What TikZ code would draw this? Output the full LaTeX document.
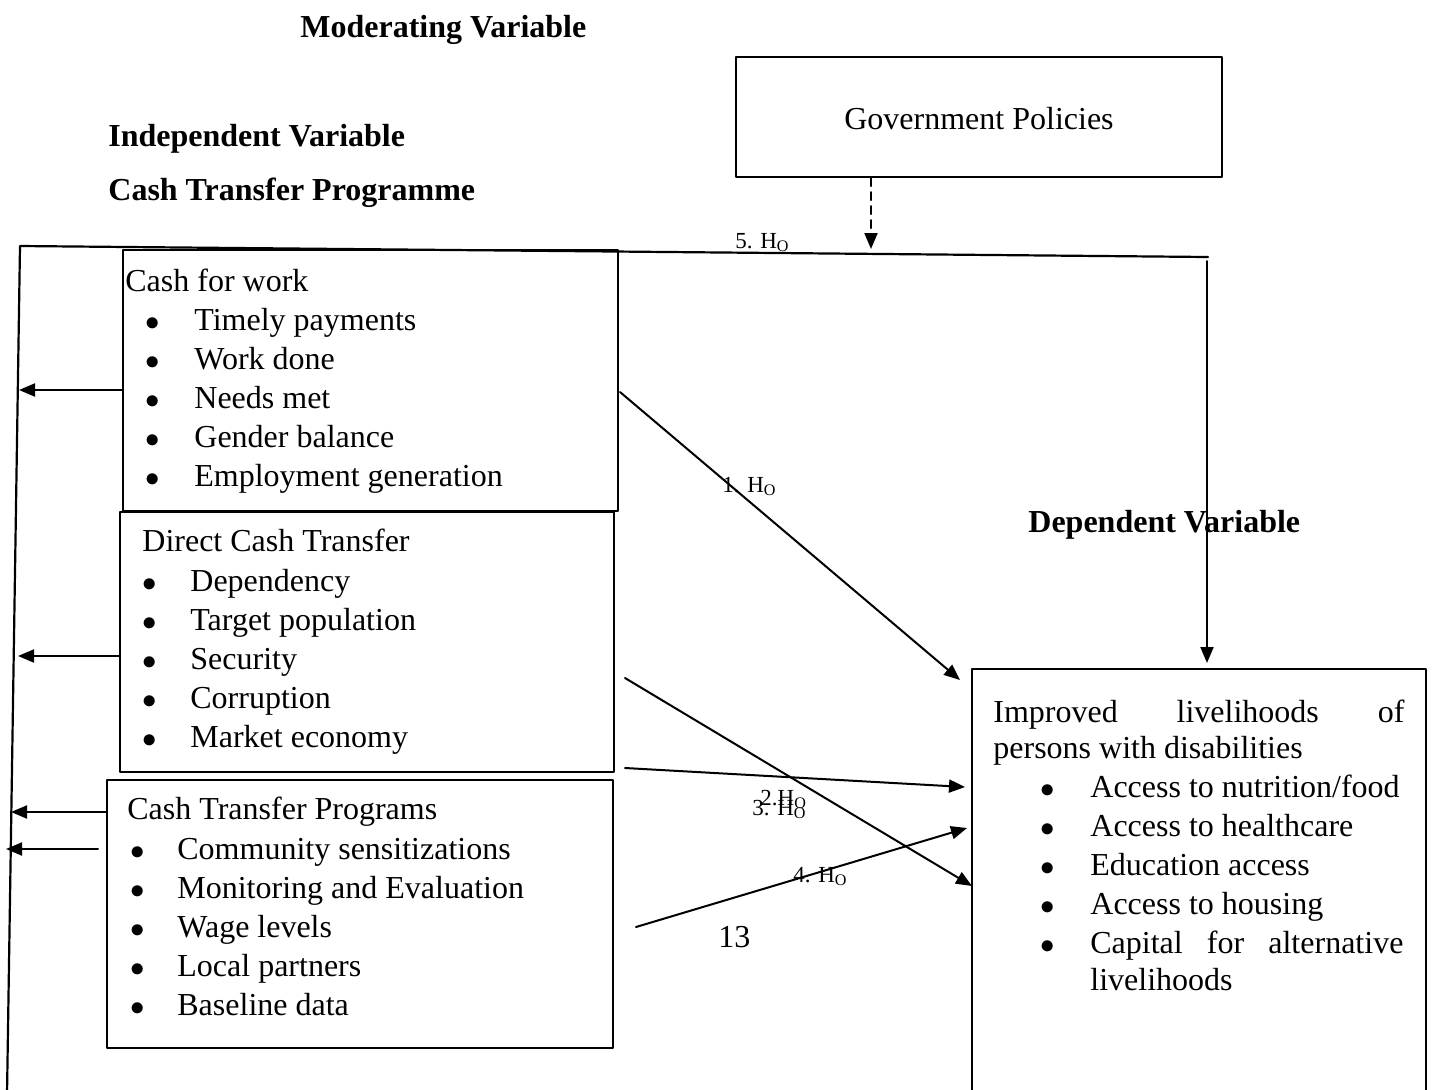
\documentclass[tikz,border=0pt]{standalone}
\usepackage{fontspec}
\setmainfont{Liberation Serif}
\usetikzlibrary{arrows.meta,fit}

\begin{document}
\begin{tikzpicture}[x=0.5pt,y=-0.5pt,line cap=round,line join=round,
  >={Triangle[length=8pt,width=6.5pt]},
  box/.style={draw,line width=1.2pt,rectangle,inner sep=0pt},
  txt/.style={anchor=base west,inner sep=0pt,font=\fontsize{16}{19.5}\selectfont},
  bul/.style={anchor=base,inner sep=0pt,font=\fontsize{15}{19.5}\selectfont},
  head/.style={anchor=base west,inner sep=0pt,font=\fontsize{16}{19.5}\selectfont\bfseries},
  hyp/.style={anchor=base west,inner sep=0pt,font=\fontsize{11.5}{13}\selectfont},
  link/.style={line width=1pt,->}]
\useasboundingbox (0,0) rectangle (1432,1089);
\clip (0,0) rectangle (1432,1089);
% headings
\node[head] (modv) at (300,37) {Moderating Variable};
\node[head] (indv) at (108,146) {Independent Variable};
\node[head] (ctpv) at (108,200) {Cash Transfer Programme};
\node[head] (depv) at (1028,532) {Dependent Variable};
% boxes
\node[box,fit={(736,57) (1222,177)}] (gov) {};
\node[box,fit={(123,250) (618,511)}] (cfw) {};
\node[box,fit={(120,512) (614,772)}] (dct) {};
\node[box,fit={(107,780) (613,1048)}] (ctp) {};
\node[box,fit={(972,669) (1426,1110)}] (dep) {};
\node[txt,anchor=base] (govt) at (979,129) {Government Policies};
% cash for work
\node[txt] (cfwt) at (125,291) {Cash for work};
\foreach \t [count=\i from 0] in {Timely payments,Work done,Needs met,Gender balance,Employment generation}
{
  \node[bul] (cfwb\i) at (153,{330+39*\i}) {$\bullet$};
  \node[txt] (cfwi\i) at (194,{330+39*\i}) {\t};
}
% direct cash transfer
\node[txt] (dctt) at (142,551) {Direct Cash Transfer};
\foreach \t [count=\i from 0] in {Dependency,Target population,Security,Corruption,Market economy}
{
  \node[bul] (dctb\i) at (150,{591+39*\i}) {$\bullet$};
  \node[txt] (dcti\i) at (190,{591+39*\i}) {\t};
}
% cash transfer programs
\node[txt] (ctpt) at (127,819) {Cash Transfer Programs};
\foreach \t [count=\i from 0] in {Community sensitizations,Monitoring and Evaluation,Wage levels,Local partners,Baseline data}
{
  \node[bul] (ctpb\i) at (138,{859+39.2*\i}) {$\bullet$};
  \node[txt] (ctpi\i) at (177,{859+39.2*\i}) {\t};
}
% dependent variable
\node[txt] (dept1) at (993,722) {\makebox[205.5pt][s]{Improved\hfill livelihoods\hfill of}};
\node[txt] (dept2) at (993,758) {persons with disabilities};
\foreach \t [count=\i from 0] in {Access to nutrition/food,Access to healthcare,Education access,Access to housing,\makebox[156.5pt][s]{Capital\hfill for\hfill alternative}}
{
  \node[bul] (depb\i) at (1048,{797+39*\i}) {$\bullet$};
  \node[txt] (depi\i) at (1090,{797+39*\i}) {\t};
}
\node[txt] (depi5) at (1090,990) {livelihoods};
\node[txt] (pgno) at (718,947) {13};
% end points
\coordinate (spt) at (20,246);
\coordinate (spb) at (7,1095);
\coordinate (tpr) at (1208,257);
\coordinate (dns) at (1207,261);
\coordinate (dne) at (1207,663);
\coordinate (mds) at (871,178);
\coordinate (mde) at (871,249);
\coordinate (h1s) at (620,392);
\coordinate (h1e) at (960,680);
\coordinate (h2s) at (625,768);
\coordinate (h2e) at (965,787);
\coordinate (h3s) at (625,678);
\coordinate (h3e) at (972,886);
\coordinate (h4s) at (636,927);
\coordinate (h4e) at (967,828);
\coordinate (l1e) at (19,390);
\coordinate (l2e) at (18,656);
\coordinate (l3e) at (11,812);
\coordinate (l4e) at (6,849);
% frame lines
\draw[line width=1.1pt] (spb) -- (spt) -- (tpr);
\draw[link] (dns) -- (dne);
\draw[line width=1pt,dash pattern=on 4pt off 3pt,->] (mds) -- (mde);
\draw[link] (h1s) -- (h1e);
\draw[link] (h2s) -- (h2e);
\draw[link] (h3s) -- (h3e);
\draw[link] (h4s) -- (h4e);
\draw[link] (cfw.west |- 0,390) -- (l1e);
\draw[link] (dct.west |- 0,656) -- (l2e);
\draw[link] (ctp.west |- 0,812) -- (l3e);
\draw[link] (98,849) -- (l4e);
% hypotheses
\node[hyp] (hy5) at (735,248) {5. H\textsubscript{O}};
\node[hyp] (hy1) at (722,492) {1. H\textsubscript{O}};
\node[hyp] (hy2) at (760,805) {2.H\textsubscript{O}};
\node[hyp] (hy3) at (752,815) {3. H\textsubscript{O}};
\node[hyp] (hy4) at (793,882) {4. H\textsubscript{O}};
\end{tikzpicture}
\end{document}
